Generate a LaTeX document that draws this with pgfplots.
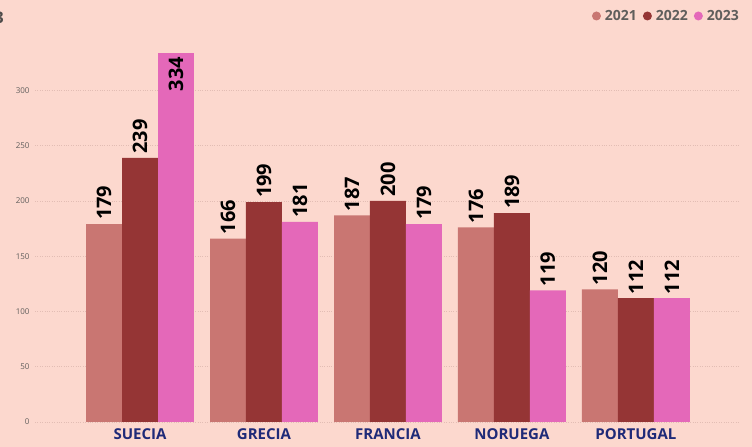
\documentclass[border=0pt]{standalone}
\usepackage{pgfplots}
\pgfplotsset{compat=1.18}
\usepackage{fontspec}
\setmainfont{Open Sans}
\definecolor{bg}{HTML}{FCD8CE}
\definecolor{cA}{HTML}{C97672}
\definecolor{cB}{HTML}{953535}
\definecolor{cC}{HTML}{E468B9}
\definecolor{lblblue}{HTML}{1F2A78}
\definecolor{tickgray}{HTML}{605E5C}
\definecolor{gridc}{HTML}{E2BDB4}
\begin{document}
\begin{tikzpicture}[x=1bp,y=1bp]
\fill[bg] (0,0) rectangle (752,447);
\useasboundingbox (0,0) rectangle (752,447);
\node[anchor=east,font=\bfseries\fontsize{16bp}{18bp}\selectfont,text=tickgray!80!black,inner sep=0pt] at (4,429) {3};
\begin{axis}[
  at={(35bp,25bp)}, anchor=south west,
  scale only axis, width=705bp, height=420bp,
  xmin=-0.847, xmax=4.84, ymin=0, ymax=380,
  axis line style={draw=none},
  major tick length=0pt,
  clip=false,
  ybar=0pt,
  xtick=data,
  xticklabels={SUECIA,GRECIA,FRANCIA,NORUEGA,PORTUGAL},
  xticklabel style={font=\bfseries\fontsize{15bp}{17bp}\selectfont, text=lblblue, yshift=-3bp},
  ytick={0,50,100,150,200,250,300},
  yticklabel style={font=\fontsize{8bp}{9bp}\selectfont, text=tickgray, xshift=-2bp},
  /pgf/number format/assume math mode=true,
  ymajorgrids,
  grid style={gridc, dotted, line width=0.8pt},
  bar width=0.29,
  nodes near coords,
  every node near coord/.append style={rotate=90, anchor=west, font=\bfseries\fontsize{20bp}{22bp}\selectfont, text=black, inner sep=4bp},
  legend columns=3,
  legend style={draw=none, fill=none, at={(752bp-35bp-8bp,447bp-25bp-16bp)}, anchor=east, font=\bfseries\fontsize{14bp}{16bp}\selectfont, text=tickgray, column sep=2bp, /tikz/every even column/.append style={column sep=4bp}},
  legend image code/.code={\fill (5bp,0bp) circle (4.5bp);},
  legend cell align=left,
]
\addplot[fill=cA, draw=none, bar shift=-0.29] coordinates {(0,179) (1,166) (2,187) (3,176) (4,120)};
\addplot[fill=cB, draw=none, bar shift=0] coordinates {(0,239) (1,199) (2,200) (3,189) (4,112)};
\addplot[fill=cC, draw=none, bar shift=0.29] coordinates {(1,181) (2,179) (3,119) (4,112)};
\addplot[fill=cC, draw=none, bar shift=0.29, forget plot, every node near coord/.append style={anchor=east}] coordinates {(0,334)};
\legend{2021,2022,2023}
\end{axis}
\end{tikzpicture}
\end{document}
